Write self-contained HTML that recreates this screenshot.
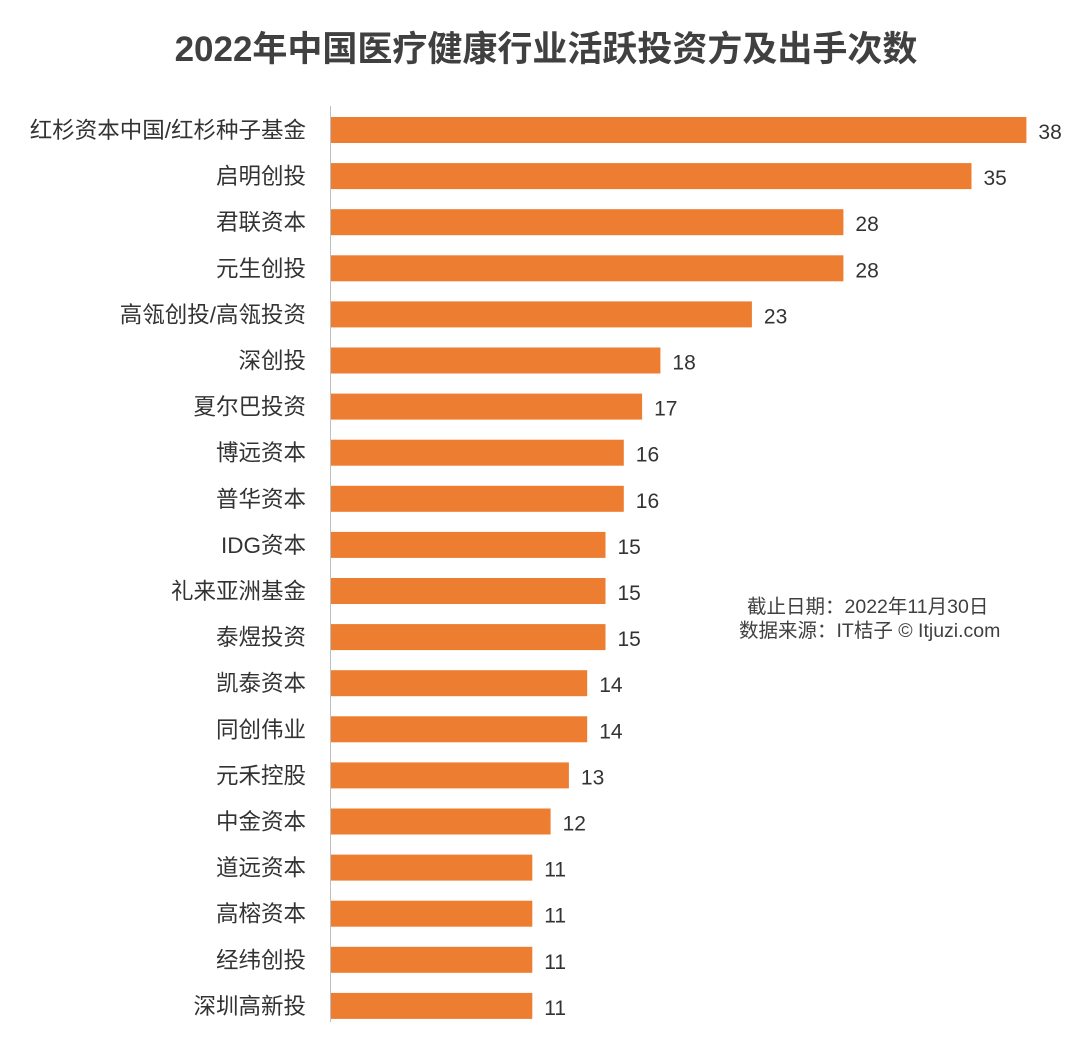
<!DOCTYPE html>
<html><head><meta charset="utf-8">
<style>
html,body{margin:0;padding:0;background:#fff;}
body{width:1080px;height:1037px;overflow:hidden;font-family:"Liberation Sans","Noto Sans CJK SC",sans-serif;}
svg text{font-family:"Liberation Sans","Noto Sans CJK SC",sans-serif;}
</style></head>
<body>
<svg id="chart" width="1080" height="1037" xmlns="http://www.w3.org/2000/svg">
<text x="546" y="61" text-anchor="middle" font-size="35" font-weight="bold" fill="#404040">2022年中国医疗健康行业活跃投资方及出手次数</text>
<line x1="330.5" y1="106" x2="330.5" y2="1022" stroke="#bfbfbf" stroke-width="1"/>
<g id="bars"></g>
<text x="747" y="613" font-size="19.5" fill="#404040">截止日期：2022年11月30日</text>
<text x="739" y="637" font-size="19.5" fill="#404040">数据来源：IT桔子 © Itjuzi.com</text>
</svg>
<script>
const categories = ["红杉资本中国/红杉种子基金","启明创投","君联资本","元生创投","高瓴创投/高瓴投资","深创投","夏尔巴投资","博远资本","普华资本","IDG资本","礼来亚洲基金","泰煜投资","凯泰资本","同创伟业","元禾控股","中金资本","道远资本","高榕资本","经纬创投","深圳高新投"];
const values = [38,35,28,28,23,18,17,16,16,15,15,15,14,14,13,12,11,11,11,11];

const x0 = 331, pxPerUnit = 18.3;
const yTop = 130, pitch = 46.1, barH = 26;
function xScale(v){ return x0 + v * pxPerUnit; }
function yScale(i){ return yTop + i * pitch; }

const g = document.getElementById('bars');
const NS = 'http://www.w3.org/2000/svg';
categories.forEach((c, i) => {
  const cy = yScale(i);
  const r = document.createElementNS(NS, 'rect');
  r.setAttribute('x', x0);
  r.setAttribute('y', cy - barH / 2);
  r.setAttribute('width', xScale(values[i]) - x0);
  r.setAttribute('height', barH);
  r.setAttribute('fill', '#ED7D31');
  
  
  g.appendChild(r);

  const t = document.createElementNS(NS, 'text');
  t.setAttribute('x', 306);
  t.setAttribute('y', cy + 8);
  t.setAttribute('text-anchor', 'end');
  t.setAttribute('font-size', '22.5');
  t.setAttribute('fill', '#333');
  t.textContent = c;
  
  
  g.appendChild(t);

  const v = document.createElementNS(NS, 'text');
  v.setAttribute('x', xScale(values[i]) + 12);
  v.setAttribute('y', cy + 9);
  v.setAttribute('font-size', '21');
  v.setAttribute('fill', '#333');
  v.textContent = values[i];
  
  
  g.appendChild(v);
});
</script>
</body></html>
